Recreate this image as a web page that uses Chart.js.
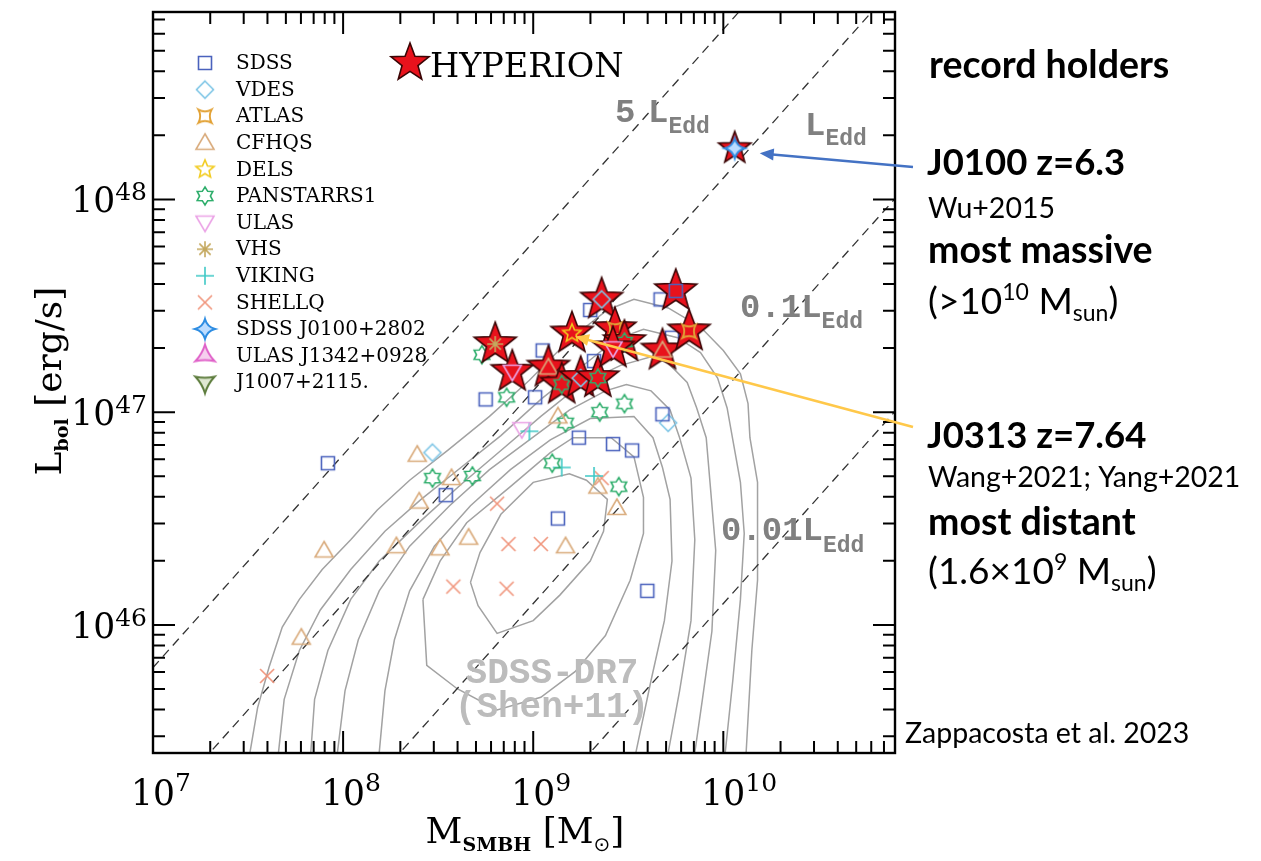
<!DOCTYPE html>
<html>
<head>
<meta charset="utf-8">
<script src="https://cdn.jsdelivr.net/npm/chart.js@4.4.1/dist/chart.umd.min.js"></script>
<style>
  html, body { margin: 0; padding: 0; background: #fff; }
  #wrap { position: relative; width: 1261px; height: 861px; }
</style>
</head>
<body>
<div id="wrap"><canvas id="chart" width="1261" height="861"></canvas></div>
<script>
// all values are log10(M_BH / Msun) and log10(L_bol / erg s^-1)
const sdssM = [7.92, 8.54, 8.75, 9.01, 9.05, 9.30, 9.67, 9.73, 9.68, 9.24, 9.42, 9.52, 9.13, 9.60, 9.32];
const sdssL = [46.76, 46.61, 47.06, 47.07, 47.29, 47.48, 47.53, 47.35, 46.99, 46.88, 46.85, 46.82, 46.50, 46.16, 47.24];
const vdesM = [8.47, 9.71];
const vdesL = [46.81, 46.95];
const cfhqsM = [8.39, 8.40, 7.90, 8.28, 8.51, 7.78, 8.57, 8.66, 9.17, 9.34, 9.44, 9.13];
const cfhqsL = [46.80, 46.58, 46.35, 46.37, 46.36, 45.94, 46.69, 46.41, 46.37, 46.65, 46.55, 46.98];
const panM = [8.47, 8.68, 9.10, 9.17, 9.35, 9.48, 9.45, 8.73, 8.86];
const panL = [46.69, 46.70, 46.76, 46.95, 47.00, 47.04, 46.65, 47.27, 47.07];
const ulasM = [8.94];
const ulasL = [46.92];
const vikingM = [8.98, 9.15, 9.32];
const vikingL = [46.91, 46.74, 46.70];
const shellqM = [7.60, 8.81, 8.87, 9.04, 8.58, 8.86, 9.36];
const shellqL = [45.76, 46.57, 46.38, 46.38, 46.18, 46.17, 46.69];

// HYPERION quasars and the survey each one comes from
const hypM = [8.80, 8.89, 9.08, 9.204, 9.15, 9.25, 9.34, 9.36, 9.43, 9.48, 9.42, 9.68, 9.75, 9.82, 10.06];
const hypL = [47.32, 47.19, 47.21, 47.37, 47.13, 47.16, 47.16, 47.53, 47.39, 47.33, 47.30, 47.29, 47.57, 47.38, 48.24];
const hypSurvey = ['VHS', 'ULAS', 'CFHQS', 'DELS', 'PANSTARRS1', 'VDES', 'PANSTARRS1', 'VDES',
  'ATLAS', 'PANSTARRS1', 'ULAS', 'CFHQS', 'SDSS', 'ATLAS', 'SDSS J0100+2802'];

// SDSS-DR7 density contours (Shen+11), outermost first
const contourLogM = [
  [7.51, 7.55, 7.61, 7.68, 7.77, 7.89, 8.04, 8.18, 8.35, 8.55, 8.77, 8.98, 9.19, 9.39, 9.53, 9.71, 9.88, 10.00, 10.09, 10.13, 10.14, 10.18, 10.18, 10.18, 10.15, 10.12],
  [7.66, 7.69, 7.77, 7.88, 8.04, 8.22, 8.41, 8.62, 8.83, 9.04, 9.25, 9.43, 9.58, 9.76, 9.88, 9.97, 10.02, 10.05, 10.09, 10.11, 10.09, 10.05, 10.01],
  [7.83, 7.85, 7.92, 8.04, 8.19, 8.41, 8.62, 8.83, 9.04, 9.25, 9.46, 9.62, 9.71, 9.81, 9.86, 9.91, 9.93, 9.96, 9.94, 9.89, 9.85],
  [7.97, 8.01, 8.08, 8.19, 8.35, 8.56, 8.77, 8.98, 9.19, 9.38, 9.49, 9.62, 9.72, 9.77, 9.83, 9.85, 9.83, 9.77, 9.71],
  [8.19, 8.22, 8.27, 8.35, 8.48, 8.67, 8.88, 9.09, 9.30, 9.53, 9.63, 9.68, 9.72, 9.73, 9.69, 9.62, 9.54],
  [8.42, 8.44, 8.60, 8.81, 9.04, 9.22, 9.38, 9.51, 9.58, 9.58, 9.53, 9.41, 9.21, 9.09, 8.88, 8.65, 8.51, 8.42],
  [8.67, 8.71, 8.81, 9.00, 9.14, 9.30, 9.37, 9.39, 9.28, 9.19, 9.00, 8.83, 8.72, 8.67]
];
const contourLogL = [
  [45.40, 45.61, 45.80, 45.99, 46.12, 46.26, 46.40, 46.54, 46.68, 46.82, 46.98, 47.15, 47.34, 47.48, 47.53, 47.49, 47.40, 47.29, 47.18, 47.04, 46.88, 46.67, 46.51, 46.21, 45.88, 45.40],
  [45.40, 45.65, 45.88, 46.07, 46.26, 46.44, 46.59, 46.74, 46.89, 47.06, 47.21, 47.34, 47.39, 47.35, 47.28, 47.16, 47.02, 46.87, 46.67, 46.43, 46.12, 45.74, 45.40],
  [45.40, 45.65, 45.88, 46.12, 46.30, 46.49, 46.66, 46.82, 46.98, 47.13, 47.22, 47.26, 47.23, 47.14, 47.02, 46.88, 46.67, 46.35, 45.97, 45.65, 45.40],
  [45.40, 45.69, 45.93, 46.16, 46.37, 46.56, 46.73, 46.87, 47.01, 47.10, 47.13, 47.10, 47.01, 46.88, 46.69, 46.40, 46.02, 45.69, 45.40],
  [45.40, 45.69, 45.93, 46.16, 46.37, 46.56, 46.73, 46.87, 46.97, 46.98, 46.88, 46.74, 46.59, 46.30, 46.02, 45.74, 45.40],
  [46.12, 45.81, 45.70, 45.60, 45.66, 45.78, 45.95, 46.21, 46.43, 46.60, 46.79, 46.88, 46.88, 46.81, 46.65, 46.48, 46.30, 46.12],
  [46.20, 46.09, 45.96, 46.02, 46.14, 46.30, 46.44, 46.59, 46.68, 46.71, 46.67, 46.52, 46.34, 46.20]
];

// Eddington ratio lines, L = f * 1.26e38 (M / Msun) erg/s
const eddFactors = [5, 1, 0.1, 0.01];
const eddConst = 1.26e38;
const massRange = [1e6, 1e12];

const SERIF = '"DejaVu Serif", serif';
const MONO = '"Liberation Mono", "DejaVu Sans Mono", monospace';
const SANS = 'Lato, "Open Sans", sans-serif';

const markerStyle = {
  'SDSS': { color: '#4a62bd', shape: 'square', r: 6.5 },
  'VDES': { color: '#7fc6e6', shape: 'diamond', r: 8.5 },
  'ATLAS': { color: '#e2a236', shape: 'atlas', r: 7.5 },
  'CFHQS': { color: '#d9ab7c', shape: 'triUp', r: 9 },
  'DELS': { color: '#f2cb1d', shape: 'star5', r: 9.5 },
  'PANSTARRS1': { color: '#2fae6c', shape: 'star6', r: 9 },
  'ULAS': { color: '#eba3e6', shape: 'triDown', r: 9 },
  'VHS': { color: '#c4a85e', shape: 'asterisk', r: 8 },
  'VIKING': { color: '#3fc9c6', shape: 'plus', r: 9 },
  'SHELLQ': { color: '#f0957c', shape: 'cross', r: 7 },
  'SDSS J0100+2802': { color: '#2e8de2', shape: 'spark4', r: 10 },
  'ULAS J1342+0928': { color: '#e062c9', shape: 'spark3', r: 11 },
  'J1007+2115.': { color: '#5e7d3e', shape: 'spark3down', r: 11 }
};
const legendOrder = Object.keys(markerStyle);

function pts(ms, ls) {
  return ms.map((m, i) => ({ x: Math.pow(10, m), y: Math.pow(10, ls[i]) }));
}

function starPath(g, n, rOut, rIn, a0) {
  g.beginPath();
  for (let i = 0; i < 2 * n; i++) {
    const r = i % 2 ? rIn : rOut;
    const a = a0 + i * Math.PI / n;
    g.lineTo(r * Math.cos(a), r * Math.sin(a));
  }
  g.closePath();
}

function sparkPath(g, n, r, a0, k) {
  g.beginPath();
  g.moveTo(r * Math.cos(a0), r * Math.sin(a0));
  for (let i = 0; i < n; i++) {
    const am = a0 + (i + 0.5) * 2 * Math.PI / n;
    const a1 = a0 + (i + 1) * 2 * Math.PI / n;
    g.quadraticCurveTo(k * r * Math.cos(am), k * r * Math.sin(am), r * Math.cos(a1), r * Math.sin(a1));
  }
  g.closePath();
}

// draws one survey symbol centred on (0, 0)
function drawSymbol(g, name) {
  const st = markerStyle[name];
  const r = st.r;
  g.save();
  g.strokeStyle = st.color;
  g.lineWidth = 1.6;
  g.lineJoin = 'miter';
  switch (st.shape) {
    case 'square': g.beginPath(); g.rect(-r, -r, 2 * r, 2 * r); g.stroke(); break;
    case 'diamond':
      g.beginPath(); g.moveTo(0, -r); g.lineTo(r, 0); g.lineTo(0, r); g.lineTo(-r, 0); g.closePath(); g.stroke(); break;
    case 'triUp':
      g.beginPath(); g.moveTo(0, -r); g.lineTo(r, r * 0.72); g.lineTo(-r, r * 0.72); g.closePath(); g.stroke(); break;
    case 'triDown':
      g.beginPath(); g.moveTo(0, r); g.lineTo(r, -r * 0.72); g.lineTo(-r, -r * 0.72); g.closePath(); g.stroke(); break;
    case 'star5': starPath(g, 5, r, r * 0.45, -Math.PI / 2); g.stroke(); break;
    case 'star6': starPath(g, 6, r, r * 0.6, -Math.PI / 2); g.stroke(); break;
    case 'atlas': g.lineWidth = 1.9; sparkPath(g, 4, r * 1.25, -Math.PI / 4, 0.32); g.stroke(); break;
    case 'plus':
      g.beginPath(); g.moveTo(-r, 0); g.lineTo(r, 0); g.moveTo(0, -r); g.lineTo(0, r); g.stroke(); break;
    case 'cross':
      g.beginPath(); g.moveTo(-r, -r); g.lineTo(r, r); g.moveTo(-r, r); g.lineTo(r, -r); g.stroke(); break;
    case 'asterisk':
      g.beginPath();
      for (let i = 0; i < 4; i++) {
        const a = i * Math.PI / 4;
        g.moveTo(-r * Math.cos(a), -r * Math.sin(a)); g.lineTo(r * Math.cos(a), r * Math.sin(a));
      }
      g.stroke(); break;
    case 'spark4':
      sparkPath(g, 4, r, -Math.PI / 2, 0.3); g.fillStyle = '#bcdcff'; g.fill(); g.lineWidth = 2; g.stroke(); break;
    case 'spark3':
      sparkPath(g, 3, r, -Math.PI / 2, 0.3); g.fillStyle = '#f6d0ee'; g.fill(); g.lineWidth = 2; g.stroke(); break;
    case 'spark3down':
      sparkPath(g, 3, r, Math.PI / 2, 0.3); g.fillStyle = '#dfe8d2'; g.fill(); g.lineWidth = 2; g.stroke(); break;
  }
  g.restore();
}

function redStar(g, rOut) {
  starPath(g, 5, rOut, rOut * 0.42, -Math.PI / 2);
  g.fillStyle = '#e8121c';
  g.fill();
  g.lineWidth = 1.6;
  g.strokeStyle = '#3a0505';
  g.stroke();
}

function makeCanvas(size, paint) {
  const c = document.createElement('canvas');
  c.width = size; c.height = size;
  const g = c.getContext('2d');
  g.translate(size / 2, size / 2);
  paint(g);
  return c;
}

const surveyIcons = {};
legendOrder.forEach(n => { surveyIcons[n] = makeCanvas(32, g => drawSymbol(g, n)); });

const hypIcons = hypSurvey.map(s => {
  const rOut = s === 'SDSS J0100+2802' ? 17 : 22;
  return makeCanvas(56, g => { redStar(g, rOut); drawSymbol(g, s); });
});

const datasets = [];
contourLogM.forEach((ms, i) => {
  datasets.push({
    data: pts(ms, contourLogL[i]), showLine: true, borderColor: '#a2a2a2', borderWidth: 1.5,
    pointRadius: 0, tension: 0, clip: 0, order: 50
  });
});
eddFactors.forEach(f => {
  datasets.push({
    data: massRange.map(m => ({ x: m, y: f * eddConst * m })), showLine: true,
    borderColor: '#333333', borderWidth: 1.3, borderDash: [9, 6], pointRadius: 0, clip: 0, order: 40
  });
});
[['SDSS', sdssM, sdssL], ['VDES', vdesM, vdesL], ['CFHQS', cfhqsM, cfhqsL], ['PANSTARRS1', panM, panL],
 ['ULAS', ulasM, ulasL], ['VIKING', vikingM, vikingL], ['SHELLQ', shellqM, shellqL]].forEach(([n, ms, ls]) => {
  datasets.push({ label: n, data: pts(ms, ls), pointStyle: surveyIcons[n], pointRadius: 8, showLine: false, order: 20 });
});
datasets.push({ label: 'HYPERION', data: pts(hypM, hypL), pointStyle: hypIcons, pointRadius: 8, showLine: false, order: 10 });

// draws a list of [text, font, dy] runs from x, returns the end x
function runs(ctx, x, y, parts, measureOnly) {
  for (const [t, f, dy] of parts) {
    ctx.font = f;
    if (!measureOnly) ctx.fillText(t, x, y + (dy || 0));
    x += ctx.measureText(t).width;
  }
  return x;
}

const decorations = {
  id: 'decorations',
  afterDatasetsDraw(chart) {
    const { ctx, chartArea: a, scales: { x, y } } = chart;
    ctx.save();

    // frame with inward ticks on every side
    ctx.strokeStyle = '#000';
    ctx.lineWidth = 2.4;
    ctx.strokeRect(a.left, a.top, a.right - a.left, a.bottom - a.top);
    ctx.lineWidth = 2;
    ctx.beginPath();
    for (let d = 7; d <= 10; d++) {
      for (let m = 1; m <= 9; m++) {
        const v = m * Math.pow(10, d);
        if (v > x.max) continue;
        const px = x.getPixelForValue(v), len = m === 1 ? 22 : 12;
        ctx.moveTo(px, a.bottom); ctx.lineTo(px, a.bottom - len);
        ctx.moveTo(px, a.top); ctx.lineTo(px, a.top + len);
      }
    }
    for (let d = 45; d <= 48; d++) {
      for (let m = 1; m <= 9; m++) {
        const v = m * Math.pow(10, d);
        if (v < y.min || v > y.max) continue;
        const py = y.getPixelForValue(v), len = m === 1 ? 22 : 12;
        ctx.moveTo(a.left, py); ctx.lineTo(a.left + len, py);
        ctx.moveTo(a.right, py); ctx.lineTo(a.right - len, py);
      }
    }
    ctx.stroke();

    // tick labels
    ctx.fillStyle = '#000';
    ctx.textBaseline = 'alphabetic';
    const big = '34.5px ' + SERIF, sup = '25px ' + SERIF;
    for (let d = 7; d <= 10; d++) {
      const px = x.getPixelForValue(Math.pow(10, d));
      ctx.font = big;
      const w = ctx.measureText('10').width;
      runs(ctx, px - w / 2, 805, [['10', big, 0], [String(d), sup, -14]]);
    }
    for (let d = 46; d <= 48; d++) {
      const py = y.getPixelForValue(Math.pow(10, d));
      const parts = [['10', big, 0], [String(d), sup, -12]];
      const w = runs(ctx, 0, 0, parts, true);
      runs(ctx, 147 - w, py + 13, parts);
    }

    // axis titles
    const xt = [['M', '36px ' + SERIF, 0], ['SMBH', 'bold 19px ' + SERIF, 8], [' [M', '36px ' + SERIF, 0],
      ['\u2299', '20px "DejaVu Sans"', 8], [']', '36px ' + SERIF, 0]];
    const xw = runs(ctx, 0, 0, xt, true);
    runs(ctx, 525 - xw / 2, 843, xt);

    ctx.save();
    ctx.translate(61, 381);
    ctx.rotate(-Math.PI / 2);
    const yt = [['L', '36px ' + SERIF, 0], ['bol', 'bold 19px ' + SERIF, 7], [' [erg/s]', '36px ' + SERIF, 0]];
    const yw = runs(ctx, 0, 0, yt, true);
    runs(ctx, -yw / 2, 0, yt);
    ctx.restore();

    // legend
    legendOrder.forEach((n, i) => {
      const ly = 63 + i * 26.6;
      ctx.drawImage(surveyIcons[n], 205 - 16, ly - 16);
      ctx.font = '20px ' + SERIF;
      ctx.textBaseline = 'middle';
      ctx.fillText(n, 236, ly + 1);
    });
    ctx.textBaseline = 'alphabetic';
    ctx.save();
    ctx.translate(410, 63);
    redStar(ctx, 20);
    ctx.restore();
    ctx.fillStyle = '#000';
    ctx.font = '33.5px ' + SERIF;
    ctx.fillText('HYPERION', 430, 77);

    // Eddington ratio labels
    ctx.fillStyle = '#808080';
    ctx.font = 'bold 34px ' + MONO;
    ctx.fillText('5', 615, 122);
    runs(ctx, 648, 122, [['L', 'bold 34px ' + MONO, 0], ['Edd', 'bold 23px ' + MONO, 11]]);
    runs(ctx, 805, 135, [['L', 'bold 34px ' + MONO, 0], ['Edd', 'bold 23px ' + MONO, 10]]);
    runs(ctx, 740, 317, [['0.1L', 'bold 34px ' + MONO, 0], ['Edd', 'bold 23px ' + MONO, 11]]);
    runs(ctx, 721, 540, [['0.01L', 'bold 34px ' + MONO, 0], ['Edd', 'bold 23px ' + MONO, 12]]);

    ctx.fillStyle = '#bcbcbc';
    ctx.textAlign = 'center';
    ctx.font = 'bold 36px ' + MONO;
    ctx.fillText('SDSS-DR7', 552, 683);
    ctx.fillText('(Shen+11)', 552, 717);
    ctx.textAlign = 'left';

    // arrows pointing at the two record holders
    const j0100 = { x: x.getPixelForValue(Math.pow(10, hypM[14])), y: y.getPixelForValue(Math.pow(10, hypL[14])) };
    const j0313 = { x: x.getPixelForValue(Math.pow(10, hypM[3])), y: y.getPixelForValue(Math.pow(10, hypL[3])) };
    arrow(ctx, 913, 167, j0100.x + 25, j0100.y + 5, '#4472c4');
    arrow(ctx, 913, 427, j0313.x + 3, j0313.y + 3, '#ffc84a');

    // record holder notes
    ctx.fillStyle = '#000';
    const B = 'bold 37.5px ' + SANS, R = '37px ' + SANS, S = '28.5px ' + SANS, T = '23px ' + SANS;
    runs(ctx, 929, 78, [['record holders', B, 0]]);
    runs(ctx, 927, 175, [['J0100 z=6.3', 'bold 36.5px ' + SANS, 0]]);
    runs(ctx, 928, 218, [['Wu+2015', S, 0]]);
    runs(ctx, 928, 263, [['most massive', B, 0]]);
    runs(ctx, 928, 314, [['(>10', R, 0], ['10', T, -14], [' M', R, 0], ['sun', T, 7], [')', R, 0]]);
    runs(ctx, 927, 448, [['J0313 z=7.64', 'bold 36.5px ' + SANS, 0]]);
    runs(ctx, 928, 487, [['Wang+2021; Yang+2021', S, 0]]);
    runs(ctx, 928, 535, [['most distant', B, 0]]);
    runs(ctx, 928, 584, [['(1.6\u00d710', R, 0], ['9', T, -14], [' M', R, 0], ['sun', T, 7], [')', R, 0]]);
    runs(ctx, 905, 743, [['Zappacosta et al. 2023', S, 0]]);

    ctx.restore();
  }
};

function arrow(ctx, x0, y0, x1, y1, color) {
  const a = Math.atan2(y1 - y0, x1 - x0);
  ctx.save();
  ctx.strokeStyle = color;
  ctx.fillStyle = color;
  ctx.lineWidth = 2.6;
  ctx.beginPath();
  ctx.moveTo(x0, y0);
  ctx.lineTo(x1 - 10 * Math.cos(a), y1 - 10 * Math.sin(a));
  ctx.stroke();
  ctx.beginPath();
  ctx.moveTo(x1, y1);
  ctx.lineTo(x1 - 14 * Math.cos(a) + 6 * Math.sin(a), y1 - 14 * Math.sin(a) - 6 * Math.cos(a));
  ctx.lineTo(x1 - 14 * Math.cos(a) - 6 * Math.sin(a), y1 - 14 * Math.sin(a) + 6 * Math.cos(a));
  ctx.closePath();
  ctx.fill();
  ctx.restore();
}

new Chart(document.getElementById('chart'), {
  type: 'scatter',
  data: { datasets },
  options: {
    responsive: false,
    animation: false,
    events: [],
    layout: { padding: { left: 153, right: 366, top: 12, bottom: 108 } },
    plugins: { legend: { display: false }, tooltip: { enabled: false } },
    scales: {
      x: { type: 'logarithmic', display: false, min: 1e7, max: 8e10 },
      y: { type: 'logarithmic', display: false, min: 2.5e45, max: 7.6e48 }
    }
  },
  plugins: [decorations]
});
</script>
</body>
</html>
